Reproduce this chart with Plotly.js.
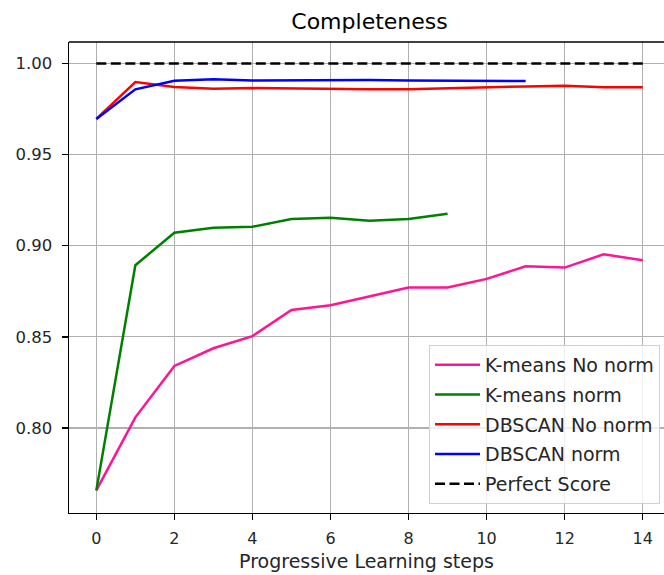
<!DOCTYPE html>
<html>
<head>
<meta charset="utf-8">
<script src="https://cdn.plot.ly/plotly-3.0.1.min.js"></script>
<style>html,body{margin:0;padding:0;overflow:hidden;background:#fff;}</style>
</head>
<body>
<div id="chart" style="width:664px;height:575px;"></div>
<script>
const stepsKmNoNorm = [0,1,2,3,4,5,6,7,8,9,10,11,12,13,14];
const kmeansNoNorm = [0.7657,0.8058,0.8340,0.8437,0.8504,0.8647,0.8673,0.8723,0.8771,0.8771,0.8818,0.8887,0.8880,0.8953,0.8920];
const stepsKmNorm = [0,1,2,3,4,5,6,7,8,9];
const kmeansNorm = [0.7657,0.8893,0.9071,0.9098,0.9104,0.9147,0.9153,0.9137,0.9146,0.9175];
const stepsDbNoNorm = [0,1,2,3,4,5,6,7,8,9,10,11,12,13,14];
const dbscanNoNorm = [0.9696,0.9898,0.9871,0.9862,0.9865,0.9862,0.9860,0.9859,0.9859,0.9865,0.9869,0.9874,0.9878,0.9869,0.9869];
const stepsDbNorm = [0,1,2,3,4,5,6,7,8,9,10,11];
const dbscanNorm = [0.9696,0.9858,0.9905,0.9914,0.9907,0.9909,0.9911,0.9909,0.9907,0.9907,0.9905,0.9904];
const perfectX = [0,14];
const perfectY = [1.0,1.0];
const seriesNames = ["K-means No norm","K-means norm","DBSCAN No norm","DBSCAN norm","Perfect Score"];
const yTicks = [0.80,0.85,0.90,0.95,1.00];
const xTicks = [0,2,4,6,8,10,12,14];

const font = "DejaVu Sans, sans-serif";
const mk = (x,y,name,color,dash,g) => ({x:x,y:y,name:name,type:"scatter",mode:"lines",
  line:{color:color,width:2.5,dash:dash||"solid"},legendgroup:g,hoverinfo:"skip"});
const data = [
  mk(stepsKmNoNorm,kmeansNoNorm,seriesNames[0],"#ff1493",null,"a"),
  mk(stepsKmNorm,kmeansNorm,seriesNames[1],"#008000",null,"b"),
  mk(stepsDbNoNorm,dbscanNoNorm,seriesNames[2],"#ff0000",null,"c"),
  mk(stepsDbNorm,dbscanNorm,seriesNames[3],"#0000ff",null,"d"),
  mk(perfectX,perfectY,seriesNames[4],"#000000","10px,4.5px","e")
];
const layout = {
  width:664,height:575,
  margin:{l:69,r:0,t:42,b:62,pad:0},
  paper_bgcolor:"#fff",plot_bgcolor:"#fff",
  font:{family:font,color:"#262626",size:16},
  title:{text:"Completeness",font:{family:font,size:22,color:"#000"},
    xref:"container",x:0.5565,xanchor:"center",yref:"container",y:0.963,yanchor:"middle"},
  xaxis:{range:[-0.7,14.545],tickvals:xTicks,ticktext:xTicks.map(String),
    showgrid:true,gridcolor:"#b0b0b0",gridwidth:1.3,zeroline:false,
    showline:true,linecolor:"#000",linewidth:1.4,mirror:false,
    ticks:"outside",ticklen:6,tickwidth:1.4,tickcolor:"#000",
    tickfont:{family:font,size:16,color:"#262626"},ticklabelstandoff:4,
    title:{text:"Progressive Learning steps",font:{family:font,size:19,color:"#262626"},standoff:8}},
  yaxis:{range:[0.7533,1.0118],tickvals:yTicks,ticktext:yTicks.map(v=>v.toFixed(2)),
    showgrid:true,gridcolor:"#b0b0b0",gridwidth:1.3,zeroline:false,
    showline:true,linecolor:"#000",linewidth:1.4,
    ticks:"outside",ticklen:6,tickwidth:1.4,tickcolor:"#000",
    tickfont:{family:font,size:16.5,color:"#262626"},ticklabelstandoff:6},
  shapes:[{type:"line",xref:"paper",yref:"paper",x0:0,x1:1.02,y0:1,y1:1,line:{color:"#000",width:1.4}}],
  showlegend:true,
  legend:{x:0.9933,y:0.0191,xanchor:"right",yanchor:"bottom",
    bgcolor:"rgba(255,255,255,0.8)",bordercolor:"#d0d0d0",borderwidth:1,itemwidth:45,
    font:{family:font,size:19,color:"#262626"},traceorder:"grouped",tracegroupgap:2}
};
Plotly.newPlot("chart",data,layout,{displayModeBar:false,staticPlot:true});
</script>
</body>
</html>
